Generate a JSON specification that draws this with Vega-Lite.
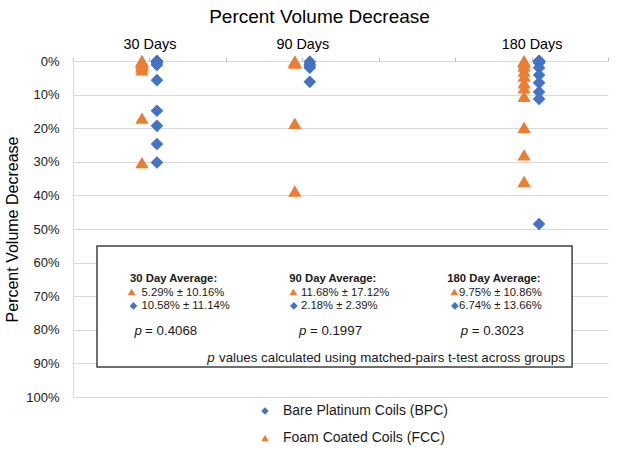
{
  "$schema": "https://vega.github.io/schema/vega-lite/v6.json",
  "width": 535,
  "height": 336,
  "autosize": {"type": "none"},
  "padding": {"left": 73, "top": 61, "right": 10, "bottom": 53},
  "config": {"view": {"stroke": null}, "font": "Liberation Sans"},
  "title": {"text": "Percent Volume Decrease", "fontSize": 19, "fontWeight": "normal", "font": "Liberation Sans", "color": "#000000", "frame": "group", "anchor": "middle", "dx": -21, "offset": 9},
  "datasets": {
    "points": [
      {"day": 30, "group": "Bare Platinum Coils (BPC)", "pct": 0},
      {"day": 30, "group": "Bare Platinum Coils (BPC)", "pct": 0},
      {"day": 30, "group": "Bare Platinum Coils (BPC)", "pct": 0.003},
      {"day": 30, "group": "Bare Platinum Coils (BPC)", "pct": 0.006},
      {"day": 30, "group": "Bare Platinum Coils (BPC)", "pct": 0.012},
      {"day": 30, "group": "Bare Platinum Coils (BPC)", "pct": 0.057},
      {"day": 30, "group": "Bare Platinum Coils (BPC)", "pct": 0.148},
      {"day": 30, "group": "Bare Platinum Coils (BPC)", "pct": 0.193},
      {"day": 30, "group": "Bare Platinum Coils (BPC)", "pct": 0.247},
      {"day": 30, "group": "Bare Platinum Coils (BPC)", "pct": 0.302},
      {"day": 30, "group": "Foam Coated Coils (FCC)", "pct": 0},
      {"day": 30, "group": "Foam Coated Coils (FCC)", "pct": 0},
      {"day": 30, "group": "Foam Coated Coils (FCC)", "pct": 0},
      {"day": 30, "group": "Foam Coated Coils (FCC)", "pct": 0.003},
      {"day": 30, "group": "Foam Coated Coils (FCC)", "pct": 0.007},
      {"day": 30, "group": "Foam Coated Coils (FCC)", "pct": 0.012},
      {"day": 30, "group": "Foam Coated Coils (FCC)", "pct": 0.018},
      {"day": 30, "group": "Foam Coated Coils (FCC)", "pct": 0.026},
      {"day": 30, "group": "Foam Coated Coils (FCC)", "pct": 0.170},
      {"day": 30, "group": "Foam Coated Coils (FCC)", "pct": 0.302},
      {"day": 90, "group": "Bare Platinum Coils (BPC)", "pct": 0.002},
      {"day": 90, "group": "Bare Platinum Coils (BPC)", "pct": 0.010},
      {"day": 90, "group": "Bare Platinum Coils (BPC)", "pct": 0.015},
      {"day": 90, "group": "Bare Platinum Coils (BPC)", "pct": 0.020},
      {"day": 90, "group": "Bare Platinum Coils (BPC)", "pct": 0.062},
      {"day": 90, "group": "Foam Coated Coils (FCC)", "pct": 0},
      {"day": 90, "group": "Foam Coated Coils (FCC)", "pct": 0.003},
      {"day": 90, "group": "Foam Coated Coils (FCC)", "pct": 0.006},
      {"day": 90, "group": "Foam Coated Coils (FCC)", "pct": 0.185},
      {"day": 90, "group": "Foam Coated Coils (FCC)", "pct": 0.387},
      {"day": 180, "group": "Bare Platinum Coils (BPC)", "pct": 0},
      {"day": 180, "group": "Bare Platinum Coils (BPC)", "pct": 0},
      {"day": 180, "group": "Bare Platinum Coils (BPC)", "pct": 0},
      {"day": 180, "group": "Bare Platinum Coils (BPC)", "pct": 0},
      {"day": 180, "group": "Bare Platinum Coils (BPC)", "pct": 0.003},
      {"day": 180, "group": "Bare Platinum Coils (BPC)", "pct": 0.006},
      {"day": 180, "group": "Bare Platinum Coils (BPC)", "pct": 0.020},
      {"day": 180, "group": "Bare Platinum Coils (BPC)", "pct": 0.042},
      {"day": 180, "group": "Bare Platinum Coils (BPC)", "pct": 0.065},
      {"day": 180, "group": "Bare Platinum Coils (BPC)", "pct": 0.092},
      {"day": 180, "group": "Bare Platinum Coils (BPC)", "pct": 0.113},
      {"day": 180, "group": "Bare Platinum Coils (BPC)", "pct": 0.485},
      {"day": 180, "group": "Foam Coated Coils (FCC)", "pct": 0},
      {"day": 180, "group": "Foam Coated Coils (FCC)", "pct": 0},
      {"day": 180, "group": "Foam Coated Coils (FCC)", "pct": 0.005},
      {"day": 180, "group": "Foam Coated Coils (FCC)", "pct": 0.015},
      {"day": 180, "group": "Foam Coated Coils (FCC)", "pct": 0.030},
      {"day": 180, "group": "Foam Coated Coils (FCC)", "pct": 0.045},
      {"day": 180, "group": "Foam Coated Coils (FCC)", "pct": 0.065},
      {"day": 180, "group": "Foam Coated Coils (FCC)", "pct": 0.080},
      {"day": 180, "group": "Foam Coated Coils (FCC)", "pct": 0.105},
      {"day": 180, "group": "Foam Coated Coils (FCC)", "pct": 0.197},
      {"day": 180, "group": "Foam Coated Coils (FCC)", "pct": 0.279},
      {"day": 180, "group": "Foam Coated Coils (FCC)", "pct": 0.358}
    ],
    "box": [
      {"day": 9.42, "day2": 195.9, "pct": 0.5506, "pct2": 0.9107}
    ],
    "keys": [
      {"day": 23.0, "pct": 0.687, "group": "Foam Coated Coils (FCC)"},
      {"day": 23.7, "pct": 0.729, "group": "Bare Platinum Coils (BPC)"},
      {"day": 86.5, "pct": 0.687, "group": "Foam Coated Coils (FCC)"},
      {"day": 86.7, "pct": 0.729, "group": "Bare Platinum Coils (BPC)"},
      {"day": 149.7, "pct": 0.687, "group": "Foam Coated Coils (FCC)"},
      {"day": 149.9, "pct": 0.729, "group": "Bare Platinum Coils (BPC)"}
    ],
    "notes": [
      {"day": 22.4, "pct": 0.658, "kind": "head", "text": "30 Day Average:"},
      {"day": 84.9, "pct": 0.658, "kind": "head", "text": "90 Day Average:"},
      {"day": 146.9, "pct": 0.658, "kind": "head", "text": "180 Day Average:"},
      {"day": 26.9, "pct": 0.699, "kind": "val", "text": "5.29% ± 10.16%"},
      {"day": 89.5, "pct": 0.699, "kind": "val", "text": "11.68% ± 17.12%"},
      {"day": 151.5, "pct": 0.699, "kind": "val", "text": "9.75% ± 10.86%"},
      {"day": 26.9, "pct": 0.739, "kind": "val", "text": "10.58% ± 11.14%"},
      {"day": 89.5, "pct": 0.739, "kind": "val", "text": "2.18% ± 2.39%"},
      {"day": 151.5, "pct": 0.739, "kind": "val", "text": "6.74% ± 13.66%"},
      {"day": 24.1, "pct": 0.815, "kind": "pit", "text": "p"},
      {"day": 88.7, "pct": 0.815, "kind": "pit", "text": "p"},
      {"day": 152.2, "pct": 0.815, "kind": "pit", "text": "p"},
      {"day": 52.7, "pct": 0.895, "kind": "pit", "text": "p"},
      {"day": 28.3, "pct": 0.815, "kind": "big", "text": "= 0.4068"},
      {"day": 93.0, "pct": 0.815, "kind": "big", "text": "= 0.1997"},
      {"day": 156.5, "pct": 0.815, "kind": "big", "text": "= 0.3023"},
      {"day": 57.3, "pct": 0.895, "kind": "big", "text": "values calculated using matched-pairs t-test across groups"}
    ]
  },
  "encoding": {
    "x": {"field": "day", "type": "quantitative", "scale": {"domain": [0, 210], "nice": false},
      "axis": {"orient": "top", "values": [0, 30, 60, 90, 120, 150, 180, 210], "labelExpr": "datum.value == 30 || datum.value == 90 || datum.value == 180 ? datum.value + ' Days' : ''", "grid": false, "domain": false, "tickColor": "#bfbfbf", "tickSize": 4, "labelFontSize": 14.4, "labelColor": "#000000", "labelPadding": 6, "labelOverlap": false, "title": null, "labelFont": "Liberation Sans"}},
    "y": {"field": "pct", "type": "quantitative", "scale": {"domain": [0, 1], "reverse": true, "nice": false},
      "axis": {"values": [0, 0.1, 0.2, 0.3, 0.4, 0.5, 0.6, 0.7, 0.8, 0.9, 1], "format": ".0%", "labelOverlap": false, "gridColor": "#d9d9d9", "domainColor": "#d9d9d9", "tickSize": 0, "labelFontSize": 13, "labelColor": "#1a1a1a", "labelPadding": 14, "labelFont": "Liberation Sans", "title": "Percent Volume Decrease", "titleFont": "Liberation Sans", "titleFontSize": 16, "titleFontWeight": "normal", "titleColor": "#000000", "titlePadding": 5}}
  },
  "layer": [
    {
      "data": {"name": "box"},
      "mark": {"type": "rect", "fill": "#ffffff", "stroke": "#404040", "strokeWidth": 1.5},
      "encoding": {
        "x2": {"field": "day2"},
        "y2": {"field": "pct2"}
      }
    },
    {
      "data": {"name": "points"},
      "transform": [{"filter": "datum.group == 'Foam Coated Coils (FCC)'"}],
      "mark": {"type": "point", "filled": true, "opacity": 1, "size": 175, "xOffset": -7.5},
      "encoding": {
        "color": {"field": "group", "type": "nominal", "scale": {"domain": ["Bare Platinum Coils (BPC)", "Foam Coated Coils (FCC)"], "range": ["#4472C4", "#ED7D31"]},
          "legend": {"title": null, "orient": "none", "legendX": 185, "legendY": 343, "direction": "vertical", "symbolSize": 55, "labelFontSize": 14, "labelFont": "Liberation Sans", "labelColor": "#1a1a1a", "labelLimit": 400, "rowPadding": 13, "labelOffset": 11}},
        "shape": {"field": "group", "type": "nominal", "scale": {"domain": ["Bare Platinum Coils (BPC)", "Foam Coated Coils (FCC)"], "range": ["diamond", "triangle-up"]}, "legend": {"title": null, "labelLimit": 400}}
      }
    },
    {
      "data": {"name": "points"},
      "transform": [{"filter": "datum.group == 'Bare Platinum Coils (BPC)'"}],
      "mark": {"type": "point", "filled": true, "opacity": 1, "size": 160, "xOffset": 7.5},
      "encoding": {
        "color": {"field": "group", "type": "nominal"},
        "shape": {"field": "group", "type": "nominal"}
      }
    },
    {
      "data": {"name": "keys"},
      "mark": {"type": "point", "filled": true, "opacity": 1, "size": 60},
      "encoding": {
        "color": {"field": "group", "type": "nominal"},
        "shape": {"field": "group", "type": "nominal"}
      }
    },
    {
      "data": {"name": "notes"},
      "transform": [{"filter": "datum.kind == 'head'"}],
      "mark": {"type": "text", "align": "left", "baseline": "alphabetic", "fontSize": 11.3, "fontWeight": "bold", "font": "Liberation Sans", "color": "#1a1a1a"},
      "encoding": {"text": {"field": "text"}}
    },
    {
      "data": {"name": "notes"},
      "transform": [{"filter": "datum.kind == 'val'"}],
      "mark": {"type": "text", "align": "left", "baseline": "alphabetic", "fontSize": 11.3, "font": "Liberation Sans", "color": "#1a1a1a"},
      "encoding": {"text": {"field": "text"}}
    },
    {
      "data": {"name": "notes"},
      "transform": [{"filter": "datum.kind == 'pit'"}],
      "mark": {"type": "text", "align": "left", "baseline": "alphabetic", "fontSize": 13.3, "fontStyle": "italic", "font": "Liberation Sans", "color": "#1a1a1a"},
      "encoding": {"text": {"field": "text"}}
    },
    {
      "data": {"name": "notes"},
      "transform": [{"filter": "datum.kind == 'big'"}],
      "mark": {"type": "text", "align": "left", "baseline": "alphabetic", "fontSize": 13.3, "font": "Liberation Sans", "color": "#1a1a1a"},
      "encoding": {"text": {"field": "text"}}
    }
  ]
}
